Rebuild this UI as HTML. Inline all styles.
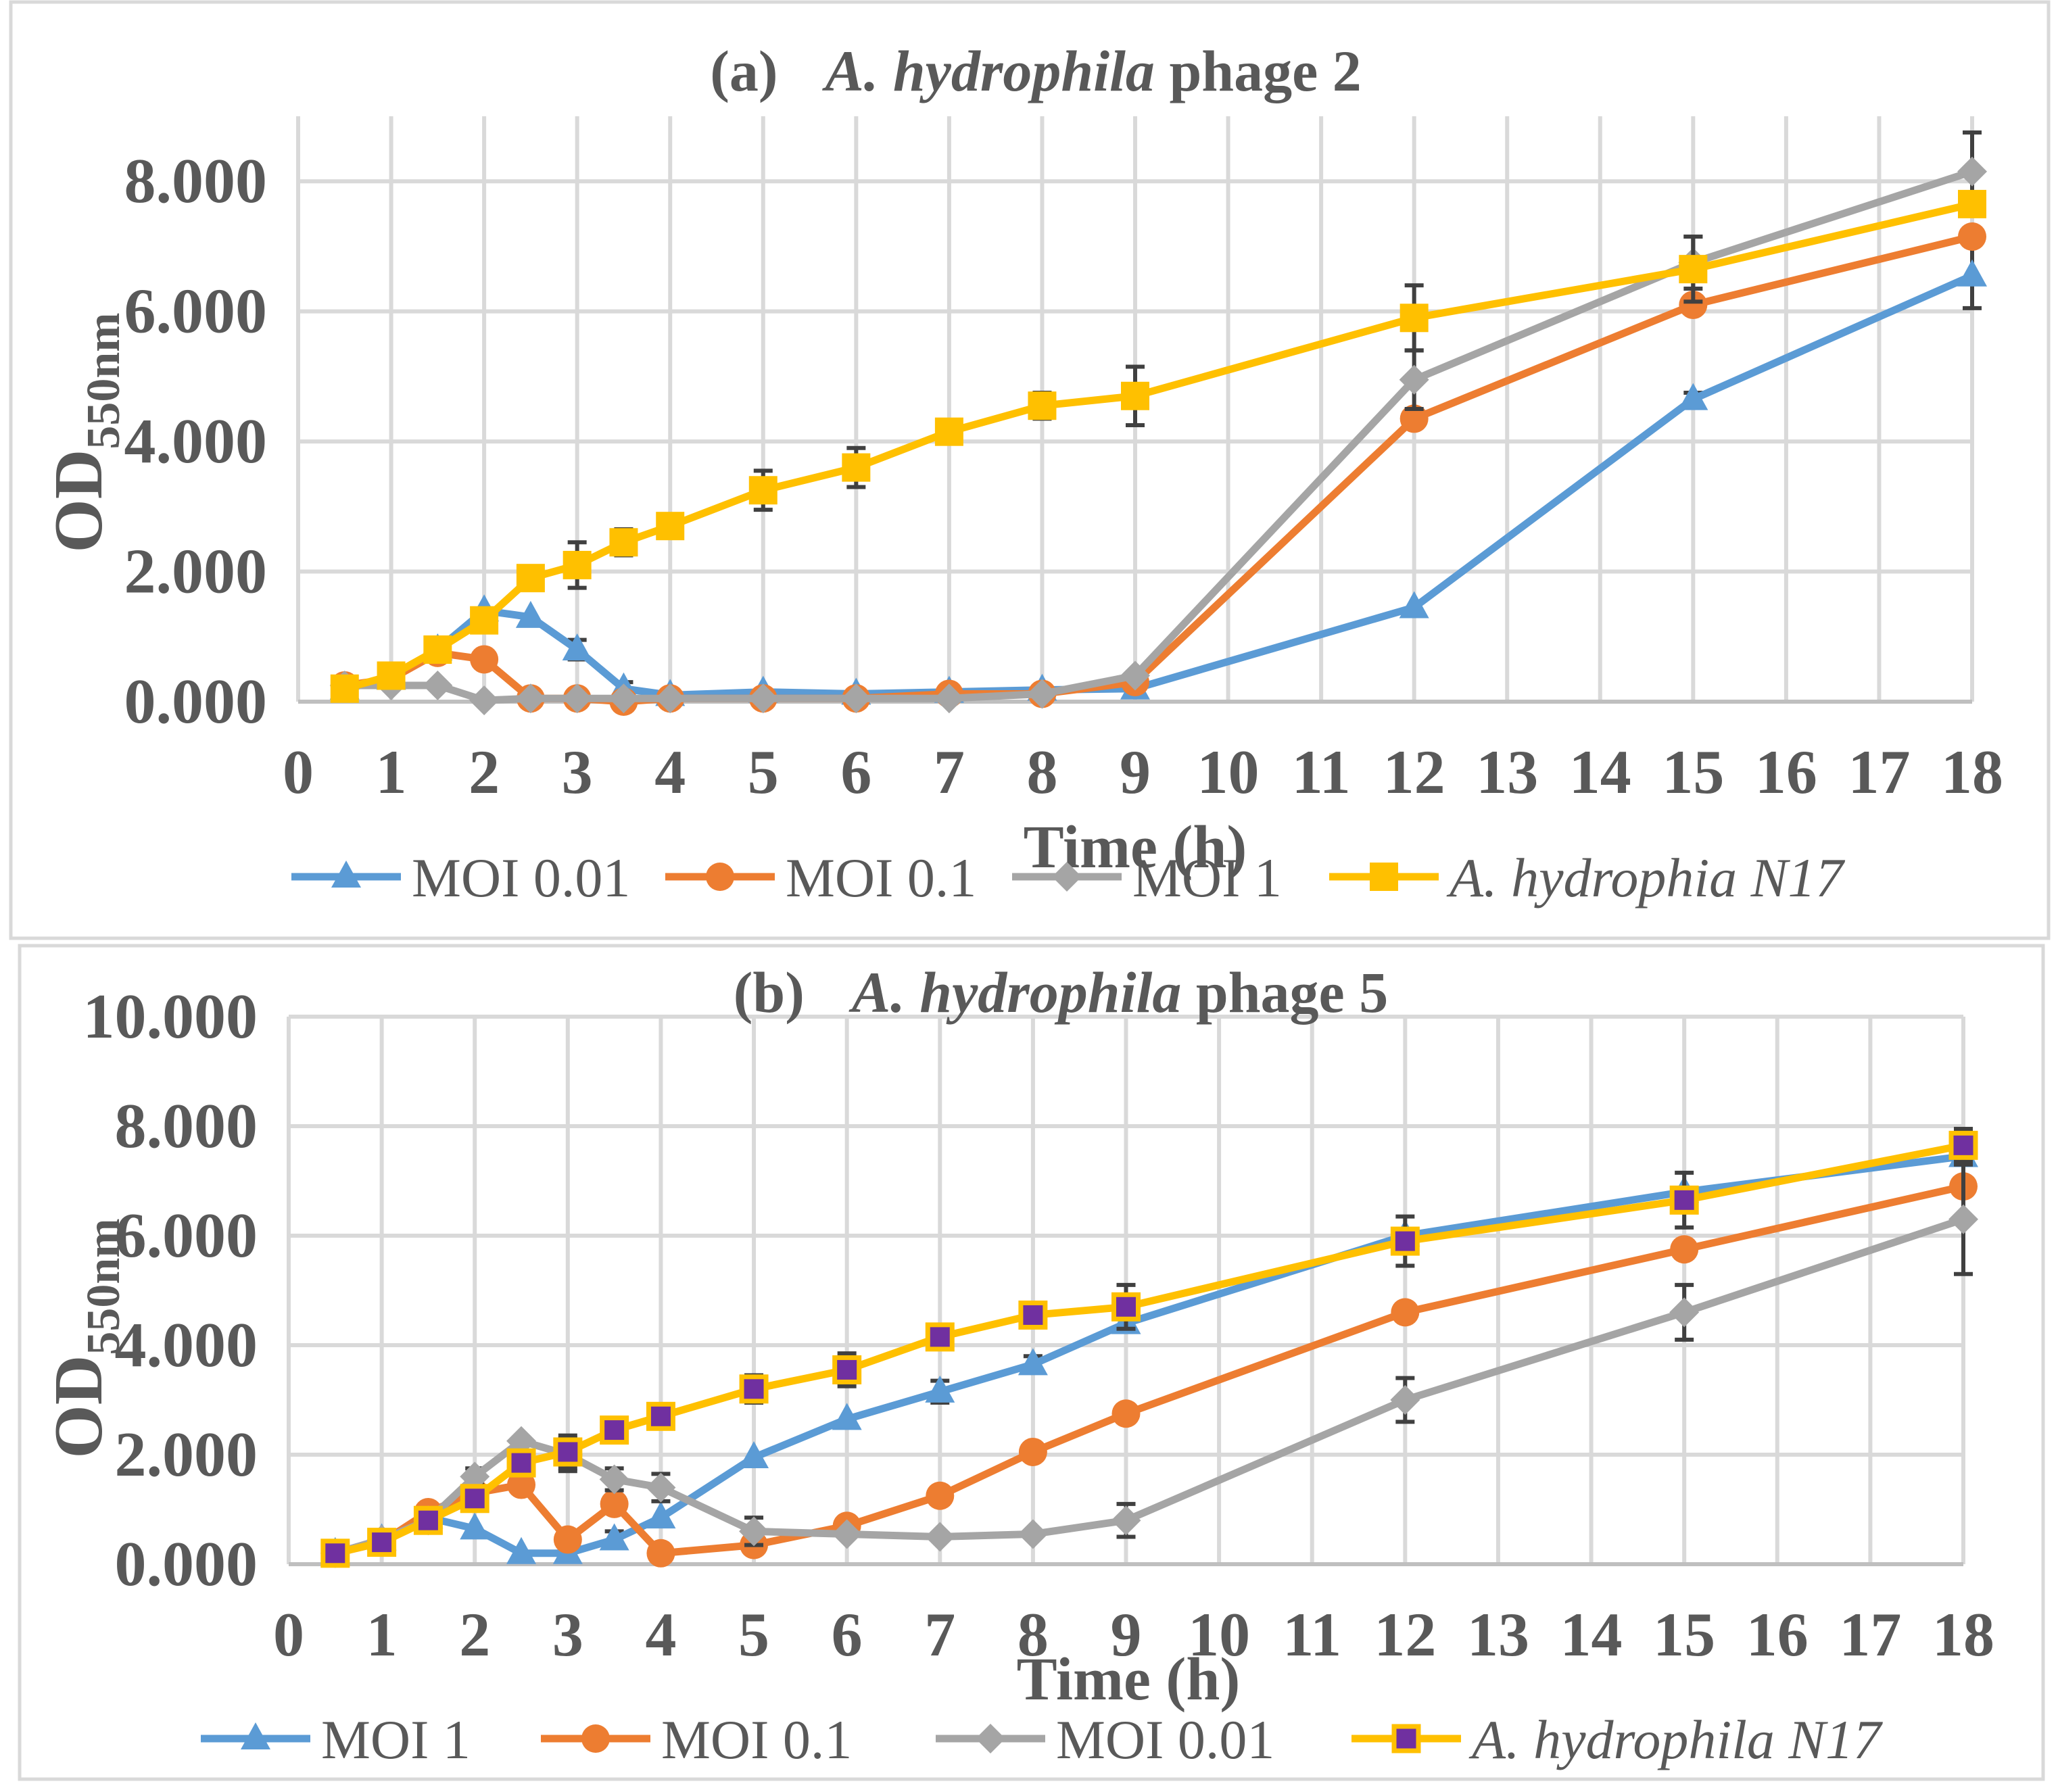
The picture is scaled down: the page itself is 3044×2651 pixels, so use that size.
<!DOCTYPE html>
<html><head><meta charset="utf-8">
<style>
html,body{margin:0;padding:0;background:#fff;}
svg{display:block;font-family:"Liberation Serif",serif;}
</style></head>
<body>
<svg id="chart" width="3044" height="2651" viewBox="0 0 3044 2651" xmlns="http://www.w3.org/2000/svg"></svg>
<script>
// ---- Data ----
const times = [0.5,1,1.5,2,2.5,3,3.5,4,5,6,7,8,9,12,15,18];
const xTicks = [0,1,2,3,4,5,6,7,8,9,10,11,12,13,14,15,16,17,18];
// Panel (a)
const aMoi001 = [0.2,0.35,0.8,1.4,1.3,0.8,0.2,0.1,0.15,0.12,0.15,0.18,0.2,1.45,4.65,6.55];
const aMoi01  = [0.25,0.35,0.75,0.65,0.05,0.05,0.0,0.05,0.05,0.05,0.12,0.12,0.3,4.35,6.1,7.15];
const aMoi1   = [0.25,0.25,0.25,0.02,0.05,0.05,0.05,0.05,0.05,0.05,0.05,0.12,0.4,4.95,6.75,8.15];
const aN17    = [0.2,0.4,0.8,1.25,1.9,2.1,2.45,2.7,3.25,3.6,4.15,4.55,4.7,5.9,6.65,7.65];
const aN17Err = [0,0,0,0,0,0.35,0.2,0,0.3,0.3,0,0.2,0.45,0.5,0.5,0];
const aMoi1Err= [0,0,0,0,0,0,0,0,0,0,0,0,0,0.45,0.4,0.6];
const aMoi001Err=[0,0,0,0,0,0.15,0.1,0,0,0,0,0,0,0,0.1,0.5];
const aYTicks = [0,2,4,6,8];
// Panel (b)
const bMoi1   = [0.2,0.45,0.85,0.65,0.2,0.2,0.45,0.85,1.95,2.65,3.15,3.65,4.4,6.0,6.8,7.45];
const bMoi01  = [0.2,0.4,0.95,1.3,1.45,0.45,1.1,0.2,0.35,0.7,1.25,2.05,2.75,4.6,5.75,6.9];
const bMoi001 = [0.2,0.45,0.8,1.6,2.25,2.0,1.55,1.4,0.6,0.55,0.5,0.55,0.8,3.0,4.6,6.3];
const bN17    = [0.2,0.4,0.8,1.2,1.85,2.05,2.45,2.7,3.2,3.55,4.15,4.55,4.7,5.9,6.65,7.65];
const bN17Err = [0,0,0,0,0,0.3,0.15,0,0.25,0.3,0,0.15,0.4,0.45,0.5,0.3];
const bMoi001Err=[0,0,0,0.15,0,0.3,0.2,0.25,0.25,0,0,0,0.3,0.4,0.5,1.0];
const bMoi1Err = [0,0,0,0,0,0,0.15,0,0,0,0.2,0.15,0,0,0,0];
const bYTicks = [0,2,4,6,8,10];

const NS="http://www.w3.org/2000/svg";
const svg=document.getElementById('chart');
function mk(tag,attrs,parent){const e=document.createElementNS(NS,tag);for(const k in attrs)e.setAttribute(k,attrs[k]);(parent||svg).appendChild(e);return e;}
const C={blue:'#5b9bd5',orange:'#ed7d31',gray:'#a5a5a5',yellow:'#ffc000',purple:'#7030a0',text:'#595959',grid:'#d9d9d9'};

function marker(g,type,cx,cy,col,legend){
  let m;
  if(type==='tri'){m=mk('polygon',{points:`${cx},${cy-24} ${cx-22},${cy+16} ${cx+22},${cy+16}`,fill:col},g);}
  else if(type==='circ'){m=mk('circle',{cx,cy,r:21,fill:col},g);}
  else if(type==='dia'){m=mk('polygon',{points:`${cx},${cy-22} ${cx+22},${cy} ${cx},${cy+22} ${cx-22},${cy}`,fill:col},g);}
  else if(type==='sq'){m=mk('rect',{x:cx-21,y:cy-21,width:42,height:42,fill:col},g);}
  else if(type==='sqp'){m=mk('rect',{x:cx-18,y:cy-18,width:36,height:36,fill:C.purple,stroke:C.yellow,'stroke-width':7},g);}
  
  
}

function panel(p){
  const g=mk('g',{});
  
  
  const fr=mk('rect',{x:p.frame[0],y:p.frame[1],width:p.frame[2],height:p.frame[3],fill:'none',stroke:C.grid,'stroke-width':5},g);
  
  const X=v=>p.x0+v*(p.x1-p.x0)/18;
  const Y=v=>p.y0-v*(p.y0-p.yTop)/p.ymax;
  xTicks.forEach(t=>{
    const l=mk('line',{x1:X(t),x2:X(t),y1:p.yTop,y2:p.y0,stroke:C.grid,'stroke-width':6},g);
    
    const tx=mk('text',{x:X(t),y:p.y0+135,'text-anchor':'middle','font-size':92,'font-weight':'bold',fill:C.text},g);
    tx.textContent=t;
  });
  p.yTicks.forEach(t=>{
    const l=mk('line',{x1:p.x0,x2:p.x1,y1:Y(t),y2:Y(t),stroke:C.grid,'stroke-width':6},g);
    
    const tx=mk('text',{x:p.x0-46,y:Y(t)+31,'text-anchor':'end','font-size':94,'font-weight':'bold',fill:C.text},g);
    tx.textContent=t.toFixed(3);
  });
  const ax=mk('line',{x1:p.x0,x2:p.x1,y1:p.y0,y2:p.y0,stroke:'#bfbfbf','stroke-width':6},g);
  
  const ti=mk('text',{x:p.titleX,y:p.titleY,'text-anchor':'middle','font-size':86,'font-weight':'bold',fill:C.text},g);
  
  ti.innerHTML=`${p.label}<tspan dx="70" font-style="italic">A. hydrophila</tspan> phage ${p.phage}`;
  const yt=mk('text',{x:0,y:0,transform:`translate(${p.yTitleX},${p.yTitleY}) rotate(-90)`,'text-anchor':'middle','font-size':102,'font-weight':'bold',fill:C.text},g);
  yt.innerHTML='OD<tspan font-size="70" dy="26">550nm</tspan>';
  
  p.series.forEach(s=>{
    const sg=mk('g',{},g);
    
    if(s.err){s.vals.forEach((v,i)=>{const e=s.err[i];if(!e)return;
      const x=X(times[i]);
      const eb=mk('path',{d:`M${x},${Y(v-e)}V${Y(v+e)}M${x-14},${Y(v-e)}H${x+14}M${x-14},${Y(v+e)}H${x+14}`,stroke:'#404040','stroke-width':6,fill:'none'},sg);
      });}
    const pts=s.vals.map((v,i)=>X(times[i])+','+Y(v)).join(' ');
    const pl=mk('polyline',{points:pts,fill:'none',stroke:s.col,'stroke-width':11,'stroke-linejoin':'round'},sg);
    
    s.vals.forEach((v,i)=>marker(sg,s.m,X(times[i]),Y(v),s.col,false));
  });
  const xt=mk('text',{x:p.xTitleX,y:p.xTitleY,'text-anchor':'middle','font-size':90,'font-weight':'bold',fill:C.text},g);
  xt.textContent='Time (h)';
  p.legend.forEach(L=>{
    const lg=mk('g',{},g);
    
    mk('line',{x1:L.x,x2:L.x+162,y1:p.legY,y2:p.legY,stroke:L.col,'stroke-width':11},lg);
    marker(lg,L.m,L.x+81,p.legY,L.col,true);
    const t=mk('text',{x:L.x+178,y:p.legY+29,'font-size':82,fill:C.text},lg);
    if(L.it)t.setAttribute('font-style','italic');
    t.textContent=L.t;
  });
}

panel({name:'panel-a',frame:[16,3,3014,1385],x0:441,x1:2917,y0:1038,yTop:172,ymax:9,yTicks:aYTicks,
  label:'(a)',phage:2,titleX:1532,titleY:134,yTitleX:150,yTitleY:640,xTitleX:1679,xTitleY:1283,legY:1297,
  series:[
    {key:'moi-0.01',vals:aMoi001,col:C.blue,m:'tri',err:aMoi001Err},
    {key:'moi-0.1',vals:aMoi01,col:C.orange,m:'circ'},
    {key:'moi-1',vals:aMoi1,col:C.gray,m:'dia',err:aMoi1Err},
    {key:'n17',vals:aN17,col:C.yellow,m:'sq',err:aN17Err}],
  legend:[{x:431,col:C.blue,m:'tri',t:'MOI 0.01'},{x:984,col:C.orange,m:'circ',t:'MOI 0.1'},
    {x:1497,col:C.gray,m:'dia',t:'MOI 1'},{x:1966,col:C.yellow,m:'sq',t:'A. hydrophia N17',it:true}]
});
panel({name:'panel-b',frame:[29,1399,2993,1233],x0:427,x1:2904,y0:2314,yTop:1504,ymax:10,yTicks:bYTicks,
  label:'(b)',phage:5,titleX:1569,titleY:1497,yTitleX:150,yTitleY:1980,xTitleX:1669,xTitleY:2514,legY:2572,
  series:[
    {key:'moi-1',vals:bMoi1,col:C.blue,m:'tri',err:bMoi1Err},
    {key:'moi-0.1',vals:bMoi01,col:C.orange,m:'circ'},
    {key:'moi-0.01',vals:bMoi001,col:C.gray,m:'dia',err:bMoi001Err},
    {key:'n17',vals:bN17,col:C.yellow,m:'sqp',err:bN17Err}],
  legend:[{x:297,col:C.blue,m:'tri',t:'MOI 1'},{x:800,col:C.orange,m:'circ',t:'MOI 0.1'},
    {x:1384,col:C.gray,m:'dia',t:'MOI 0.01'},{x:1999,col:C.yellow,m:'sqp',t:'A. hydrophila N17',it:true}]
});
</script>
</body></html>
